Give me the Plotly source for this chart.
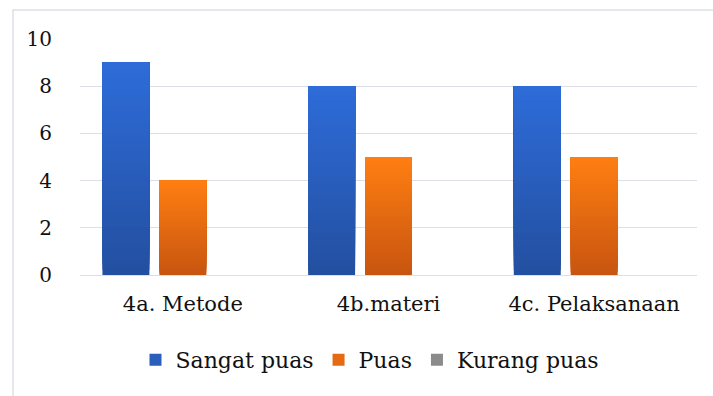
import plotly.graph_objects as go

# Survey results per aspect
categories = ["4a. Metode", "4b.materi", "4c. Pelaksanaan"]
sangat_puas = [9, 8, 8]
puas = [4, 5, 5]
kurang_puas = [0, 0, 0]
y_ticks = [0, 2, 4, 6, 8, 10]

series = [
    ("Sangat puas", sangat_puas, (0x23, 0x4F, 0x9F), (0x2E, 0x6C, 0xD9)),
    ("Puas", puas, (0xC8, 0x55, 0x10), (0xFF, 0x7F, 0x12)),
    ("Kurang puas", kurang_puas, (0x6E, 0x6E, 0x6E), (0xA6, 0xA6, 0xA6)),
]

FONT = "DejaVu Serif"
N_SLICES = 40


def mix(c0, c1, t):
    return "rgb(%d,%d,%d)" % tuple(round(a + (b - a) * t) for a, b in zip(c0, c1))


fig = go.Figure()
for name, values, dark, light in series:
    # overlapping layers, each reaching the bar top, give a vertical gradient
    for k in range(N_SLICES):
        t = (k + 0.5) / N_SLICES
        fig.add_trace(go.Bar(
            x=categories,
            y=[v * (1 - k / N_SLICES) for v in values],
            base=[v * k / N_SLICES for v in values],
            offsetgroup=name,
            name=name,
            legendgroup=name,
            showlegend=(k == N_SLICES // 2),
            marker=dict(color=mix(dark, light, t), line=dict(width=0)),
            hoverinfo="skip",
        ))

fig.update_layout(
    width=713,
    height=396,
    margin=dict(l=80, r=16, t=39, b=121),
    paper_bgcolor="white",
    plot_bgcolor="white",
    barmode="group",
    bargap=0.17,
    bargroupgap=0.175,
    font=dict(family=FONT, size=21, color="#111111"),
    showlegend=True,
    legend=dict(
        orientation="h",
        x=0.47,
        xanchor="center",
        y=-0.36,
        yanchor="middle",
        font=dict(size=22),
        traceorder="normal",
        itemwidth=30,
    ),
    xaxis=dict(
        showgrid=False,
        showline=False,
        zeroline=False,
        ticks="outside",
        ticklen=10,
        tickcolor="rgba(0,0,0,0)",
    ),
    yaxis=dict(
        range=[0, 10],
        tickvals=y_ticks,
        showgrid=True,
        gridcolor="#DCDFE5",
        gridwidth=1.3,
        zeroline=True,
        zerolinecolor="#DCDFE5",
        zerolinewidth=1.3,
        showline=False,
        ticks="outside",
        ticklen=23,
        tickcolor="rgba(0,0,0,0)",
        tickfont=dict(size=20),
    ),
    shapes=[
        dict(
            type="rect",
            xref="paper",
            yref="paper",
            x0=(13 - 80) / 617,
            x1=(730 - 80) / 617,
            y0=(275 - 410) / 236,
            y1=(275 - 10) / 236,
            line=dict(color="#DCDFE5", width=1.5),
            fillcolor="rgba(0,0,0,0)",
            layer="below",
        )
    ],
)

fig.write_html("out.html")
